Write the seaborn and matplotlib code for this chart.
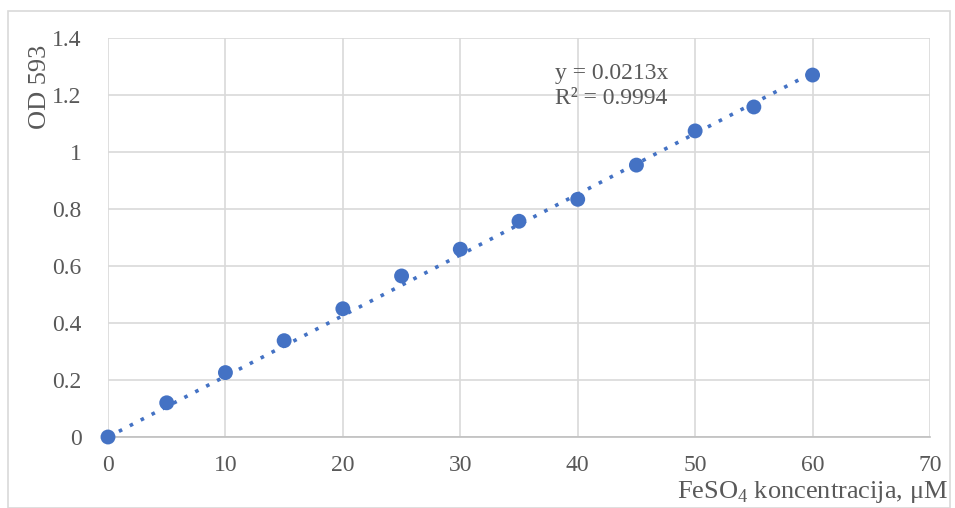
import numpy as np
import pandas as pd
import matplotlib
matplotlib.use("Agg")
import matplotlib.pyplot as plt
import seaborn as sns
from matplotlib.patches import Rectangle

conc = [0, 5, 10, 15, 20, 25, 30, 35, 40, 45, 50, 55, 60]
od = [0.0, 0.120, 0.226, 0.338, 0.450, 0.565, 0.659, 0.757, 0.834, 0.954, 1.074, 1.158, 1.270]
slope = 0.0213
x_ticks = [0, 10, 20, 30, 40, 50, 60, 70]
y_ticks = [0, 0.2, 0.4, 0.6, 0.8, 1.0, 1.2, 1.4]
y_tick_labels = ["0", "0.2", "0.4", "0.6", "0.8", "1", "1.2", "1.4"]

sns.set_theme(style="white")
plt.rcParams['font.family'] = ['Liberation Serif', 'DejaVu Serif']

df = pd.DataFrame({"conc": conc, "od": od})
fit_x = np.array([conc[0], conc[-1]])
fit_df = pd.DataFrame({"x": fit_x, "y": slope * fit_x})

fig = plt.figure(figsize=(9.55, 5.08), dpi=100)
ax = fig.add_axes([108/955, 1-437/508, (930-108)/955, (437-38)/508])

fig.patches.append(Rectangle((8/955, 0), (950-8)/955, 1-11/508, transform=fig.transFigure,
                             fill=False, edgecolor="#d9d9d9", linewidth=1.2))

ax.set_xlim(0, 70)
ax.set_ylim(0, 1.4)
ax.set_xticks(x_ticks)
ax.set_yticks(y_ticks)
ax.set_yticklabels(y_tick_labels)
ax.grid(True, color="#d9d9d9", linewidth=1.2)
ax.set_axisbelow(True)
for s in ["top", "right", "left"]:
    ax.spines[s].set_visible(False)
ax.spines["bottom"].set_color("#bfbfbf")
ax.spines["bottom"].set_linewidth(1.2)

sns.lineplot(data=fit_df, x="x", y="y", ax=ax, color="#4472C4", linestyle=(0, (1, 2.4)),
             linewidth=2.6, zorder=3)
sns.scatterplot(data=df, x="conc", y="od", ax=ax, color="#4472C4", s=115, edgecolor="none",
                zorder=4, clip_on=False)

ax.tick_params(axis="both", length=0, labelsize=17, labelcolor="#595959")
ax.tick_params(axis="x", pad=13)
ax.tick_params(axis="y", pad=19)
ax.set_xlabel("")
ax.set_ylabel("")

fig.text(948/955, 1-492/508, r"FeSO$_{\mathregular{4}}$ koncentracija, μM", ha="right", va="center",
         fontsize=19, color="#595959")
fig.text(40/955, 1-87/508, "OD 593", rotation=90, ha="center", va="center",
         fontsize=19, color="#595959")

ax.text(555/955, 1-73/508, "y = 0.0213x", transform=fig.transFigure, fontsize=17,
        color="#595959", ha="left", va="center")
ax.text(555/955, 1-99/508, "R² = 0.9994", transform=fig.transFigure, fontsize=17,
        color="#595959", ha="left", va="center")

fig.savefig("out.png", dpi=100)
